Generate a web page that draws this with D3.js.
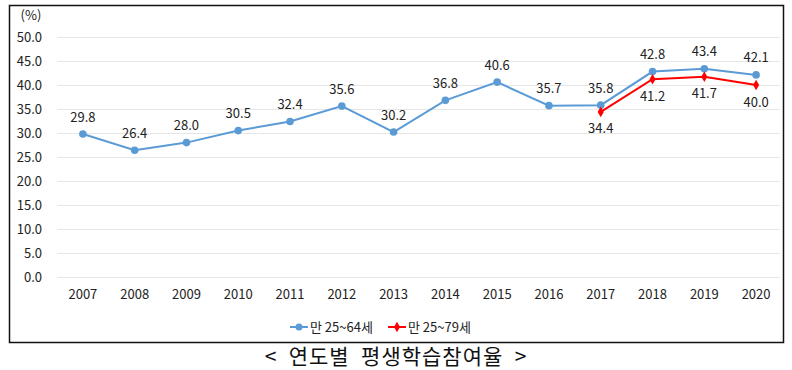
<!DOCTYPE html>
<html>
<head>
<meta charset="utf-8">
<script src="https://cdn.jsdelivr.net/npm/d3@7"></script>
<style>
  body { margin: 0; background: #fff; }
  text { font-family: "Noto Sans CJK KR", "Noto Sans", sans-serif; fill: #222; }
</style>
</head>
<body>
<svg id="chart" width="792" height="370"></svg>
<script>
// data
var years = ["2007","2008","2009","2010","2011","2012","2013","2014","2015","2016","2017","2018","2019","2020"];
var age2564 = [29.8, 26.4, 28.0, 30.5, 32.4, 35.6, 30.2, 36.8, 40.6, 35.7, 35.8, 42.8, 43.4, 42.1];
var age2579Years = ["2017","2018","2019","2020"];
var age2579 = [34.4, 41.2, 41.7, 40.0];
var yTicks = [0, 5, 10, 15, 20, 25, 30, 35, 40, 45, 50];
var seriesNames = ["만 25~64세", "만 25~79세"];

var BLUE = "#5b9bd5", RED = "#ff0000";

var svg = d3.select("#chart");

// frame
svg.append("rect")
    .attr("x", 9.5).attr("y", 5.5)
    .attr("width", 774).attr("height", 337)
    .attr("fill", "none").attr("stroke", "#111").attr("stroke-width", 1.5);

var x = d3.scaleBand().domain(years).range([57, 782]);
var y = d3.scaleLinear().domain([0, 50]).range([277, 37]);

// grid
svg.append("g").selectAll("line")
    .data(yTicks).enter().append("line")
    .attr("x1", 57).attr("x2", 780)
    .attr("y1", d => y(d) + 0.5).attr("y2", d => y(d) + 0.5)
    .attr("stroke", "#e6e6e6").attr("stroke-width", 1);

// y labels
svg.append("g").selectAll("text")
    .data(yTicks).enter().append("text")
    .attr("x", 42).attr("y", d => y(d))
    .attr("dy", "0.35em")
    .attr("text-anchor", "end")
    .style("font-size", "13px")
    .text(d => d.toFixed(1));

svg.append("text")
    .attr("x", 31).attr("y", 15)
    .attr("dy", "0.35em")
    .attr("text-anchor", "middle")
    .style("font-size", "13px")
    .text("(%)");

// x labels
svg.append("g").selectAll("text")
    .data(years).enter().append("text")
    .attr("x", d => x(d) + x.bandwidth() / 2).attr("y", 294)
    .attr("dy", "0.35em")
    .attr("text-anchor", "middle")
    .style("font-size", "13px")
    .text(d => d);

var cx = d => x(d) + x.bandwidth() / 2;

var blue = years.map((yr, i) => ({year: yr, v: age2564[i]}));
var red = age2579Years.map((yr, i) => ({year: yr, v: age2579[i]}));

var line = d3.line().x(d => cx(d.year)).y(d => y(d.v));

// blue series
svg.append("path").datum(blue)
    .attr("d", line).attr("fill", "none")
    .attr("stroke", BLUE).attr("stroke-width", 2);
svg.append("g").selectAll("circle")
    .data(blue).enter().append("circle")
    .attr("cx", d => cx(d.year)).attr("cy", d => y(d.v))
    .attr("r", 3.8).attr("fill", BLUE);

// red series
svg.append("path").datum(red)
    .attr("d", line).attr("fill", "none")
    .attr("stroke", RED).attr("stroke-width", 2);
var diamond = d3.symbol().type(d3.symbolDiamond).size(32);
svg.append("g").selectAll("path")
    .data(red).enter().append("path")
    .attr("d", diamond)
    .attr("transform", d => "translate(" + cx(d.year) + "," + y(d.v) + ")")
    .attr("fill", RED);

// value labels
svg.append("g").selectAll("text")
    .data(blue).enter().append("text")
    .attr("x", d => cx(d.year)).attr("y", d => y(d.v) - 17)
    .attr("dy", "0.35em")
    .attr("text-anchor", "middle")
    .style("font-size", "13px")
    .text(d => d.v.toFixed(1));

svg.append("g").selectAll("text")
    .data(red).enter().append("text")
    .attr("x", d => cx(d.year)).attr("y", d => y(d.v) + 17)
    .attr("dy", "0.35em")
    .attr("text-anchor", "middle")
    .style("font-size", "13px")
    .text(d => d.v.toFixed(1));

// legend
var legend = svg.append("g");
var legendX = [290, 388];
[BLUE, RED].forEach(function(c, i) {
    var lx = legendX[i], ly = 327;
    legend.append("line")
        .attr("x1", lx).attr("x2", lx + 18)
        .attr("y1", ly).attr("y2", ly)
        .attr("stroke", c).attr("stroke-width", 2);
    if (i === 0) {
        legend.append("circle").attr("cx", lx + 9).attr("cy", ly).attr("r", 3.5).attr("fill", c);
    } else {
        legend.append("path").attr("d", diamond).attr("transform", "translate(" + (lx + 9) + "," + ly + ")").attr("fill", c);
    }
    legend.append("text")
        .attr("x", lx + 20).attr("y", ly)
        .attr("dy", "0.35em")
        .style("font-size", "13px")
        .text(seriesNames[i]);
});

// caption
svg.append("text")
    .attr("x", 396).attr("y", 357)
    .attr("dy", "0.35em")
    .attr("text-anchor", "middle")
    .style("font-size", "21px")
    .style("letter-spacing", "1px")
    .style("fill", "#111")
    .attr("xml:space", "preserve")
    .text("<  연도별  평생학습참여율  >");
</script>
</body>
</html>
